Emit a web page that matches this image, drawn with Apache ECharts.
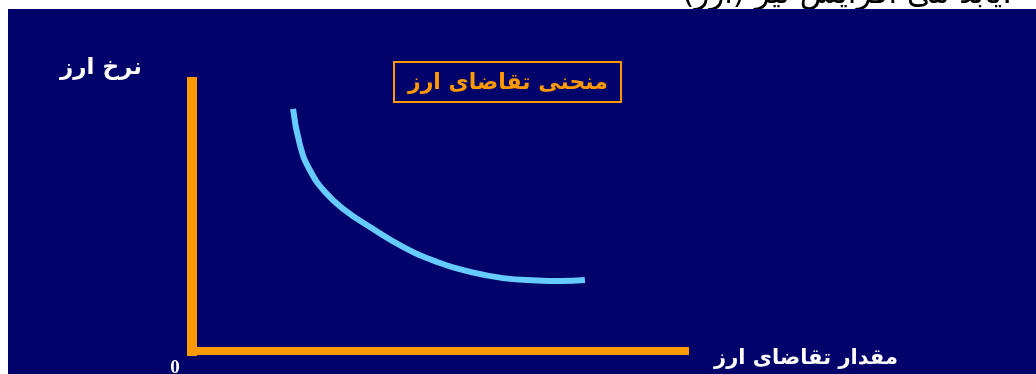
<!DOCTYPE html>
<html>
<head>
<meta charset="utf-8">
<script src="https://cdn.jsdelivr.net/npm/echarts@6/dist/echarts.min.js"></script>
<style>
html,body{margin:0;padding:0;background:#fff;}
#chart{width:1036px;height:374px;}
</style>
</head>
<body>
<div id="chart"></div>
<script>
// Demand curve for foreign currency (schematic)
const quantity = [20.5, 21.9, 23.9, 27.0, 31.0, 36.1, 42.8, 49.7, 56.4, 63.1, 70.0, 74.6, 79.7];
const rate     = [90.0, 76.6, 67.3, 59.1, 52.4, 46.1, 38.7, 33.1, 29.4, 27.1, 26.2, 26.0, 26.4];
const yAxisTitle = 'نرخ ارز';
const xAxisTitle = 'مقدار تقاضای ارز';
const curveTitle = 'منحنی تقاضای ارز';
const originLabel = '0';
const headerWords = ['(ارز)', 'نیز', 'افزایش', 'می', 'یابد.'];

const NAVY = '#02026b';
const ORANGE = '#ff9900';
const CURVE = '#66ccff';
const FONT = '"DejaVu Sans", sans-serif';

// header words laid out left-to-right (as in the source image), right edge at 1012
const headerFont = '31px ' + FONT;
const mctx = document.createElement('canvas').getContext('2d');
mctx.font = headerFont;
const spaceW = mctx.measureText(' ').width;
const headerEls = [];
let cursor = 1012;
for (let i = headerWords.length - 1; i >= 0; i--) {
  const w = mctx.measureText(headerWords[i]).width;
  headerEls.push({type: 'text', z: -200, style: {
    x: cursor, y: -5, text: headerWords[i], fill: '#000', font: headerFont,
    align: 'right', verticalAlign: 'middle'}});
  cursor -= w + spaceW;
}

const chart = echarts.init(document.getElementById('chart'), null, {renderer: 'canvas'});
chart.setOption({
  backgroundColor: '#ffffff',
  animation: false,
  grid: {left: 192, right: 1036 - 685, top: 82, bottom: 374 - 351, containLabel: false},
  xAxis: {
    type: 'value', min: 0, max: 100,
    axisLine: {show: true, lineStyle: {color: ORANGE, width: 8, cap: 'square'}},
    axisTick: {show: false}, axisLabel: {show: false}, splitLine: {show: false}
  },
  yAxis: {
    type: 'value', min: 0, max: 100,
    axisLine: {show: true, lineStyle: {color: ORANGE, width: 10, cap: 'square'}},
    axisTick: {show: false}, axisLabel: {show: false}, splitLine: {show: false}
  },
  series: [{
    type: 'line',
    data: quantity.map((q, i) => [q, rate[i]]),
    smooth: 0.5,
    symbol: 'none',
    lineStyle: {color: CURVE, width: 6, cap: 'butt'},
    z: 5
  }],
  graphic: headerEls.concat([
    {type: 'rect', z: -100, shape: {x: 8, y: 9, width: 1028, height: 365}, style: {fill: NAVY}},
    {type: 'text', style: {x: 101, y: 68, text: yAxisTitle, fill: '#fff',
      font: 'bold 23px ' + FONT, align: 'center', verticalAlign: 'middle'}},
    {type: 'text', style: {x: 806, y: 359, text: xAxisTitle, fill: '#fff',
      font: 'bold 21px ' + FONT, align: 'center', verticalAlign: 'middle'}},
    {type: 'text', style: {x: 175, y: 368, text: originLabel, fill: '#fff',
      font: 'bold 19px "Liberation Serif", serif', align: 'center', verticalAlign: 'middle'}},
    {type: 'rect', shape: {x: 394, y: 62, width: 227, height: 40},
      style: {fill: 'none', stroke: ORANGE, lineWidth: 2}},
    {type: 'text', style: {x: 508, y: 83, text: curveTitle, fill: ORANGE,
      font: 'bold 22px ' + FONT, align: 'center', verticalAlign: 'middle'}}
  ])
});
</script>
</body>
</html>
